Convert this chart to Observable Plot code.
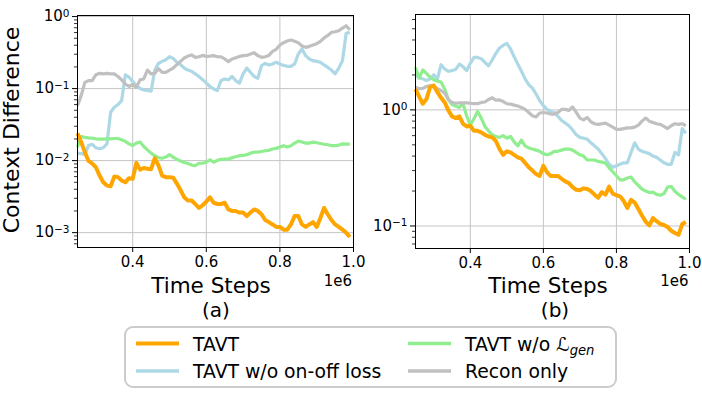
<!DOCTYPE html>
<html>
<head>
<meta charset="utf-8">
<script src="https://cdn.jsdelivr.net/npm/d3@7"></script>
<script src="https://cdn.jsdelivr.net/npm/@observablehq/plot@0.6"></script>
<style>
  html, body { margin: 0; padding: 0; background: white; }
  #wrap { position: relative; width: 702px; height: 395px; overflow: hidden; background: white; font-family: "DejaVu Sans", sans-serif; }
  .panel { position: absolute; top: 0; }
  #overlay { position: absolute; left: 0; top: 0; pointer-events: none; }
</style>
</head>
<body>
<div id="wrap">
  <div id="pa" class="panel" style="left:0px"></div>
  <div id="pb" class="panel" style="left:340px"></div>
  <svg id="overlay" width="702" height="395" font-family="DejaVu Sans, sans-serif"></svg>
</div>
<script>
// ---------- data (time steps in units of 1e6) ----------
const steps = [0.25,0.26,0.27,0.28,0.29,0.30,0.31,0.32,0.33,0.34,
  0.35,0.36,0.37,0.38,0.39,0.40,0.41,0.42,0.43,0.44,
  0.45,0.46,0.47,0.48,0.49,0.50,0.51,0.52,0.53,0.54,
  0.55,0.56,0.57,0.58,0.59,0.60,0.61,0.62,0.63,0.64,
  0.65,0.66,0.67,0.68,0.69,0.70,0.71,0.72,0.73,0.74,
  0.75,0.76,0.77,0.78,0.79,0.80,0.81,0.82,0.83,0.84,
  0.85,0.86,0.87,0.88,0.89,0.90,0.91,0.92,0.93,0.94,
  0.95,0.96,0.97,0.98,0.99];

const seriesNames = ["TAVT", "TAVT w/o on-off loss", "TAVT w/o L_gen", "Recon only"];

// panel (a)
const aTAVT = [0.0240,0.0181,0.0131,0.0099,0.0091,0.0081,0.0062,0.0050,0.0045,0.0044,
  0.0060,0.0059,0.0053,0.0050,0.0057,0.0056,0.0093,0.0075,0.0079,0.0077,
  0.0076,0.0108,0.0086,0.0062,0.0059,0.0059,0.0058,0.0048,0.0039,0.0031,
  0.0028,0.0028,0.0025,0.0022,0.0024,0.0027,0.0031,0.0026,0.0025,0.0025,
  0.0026,0.0021,0.0020,0.0020,0.0019,0.0019,0.0017,0.0019,0.0021,0.0020,
  0.0018,0.0015,0.0014,0.0013,0.0012,0.0012,0.0011,0.0011,0.0013,0.0017,
  0.0017,0.0013,0.0012,0.0013,0.0014,0.0012,0.0016,0.0022,0.0018,0.0015,
  0.0013,0.0012,0.0011,0.0010,0.00087];
const aNoOnOff = [0.0127,0.0125,0.0122,0.0162,0.0168,0.0151,0.0146,0.0151,0.0171,0.0470,
  0.0551,0.0600,0.0682,0.155,0.144,0.126,0.110,0.100,0.096,0.094,
  0.092,0.181,0.224,0.239,0.252,0.277,0.263,0.232,0.215,0.193,
  0.181,0.174,0.160,0.147,0.133,0.120,0.107,0.099,0.094,0.129,
  0.136,0.132,0.147,0.129,0.119,0.160,0.193,0.168,0.147,0.139,
  0.208,0.224,0.213,0.220,0.232,0.220,0.210,0.204,0.204,0.220,
  0.302,0.354,0.287,0.258,0.244,0.239,0.232,0.213,0.197,0.181,
  0.160,0.193,0.244,0.584,0.603];
const aNoGen = [0.0154,0.0216,0.0210,0.0207,0.0205,0.0201,0.0199,0.0199,0.0201,0.0201,
  0.0203,0.0203,0.0195,0.0185,0.0171,0.0162,0.0175,0.0181,0.0157,0.0141,
  0.0127,0.0117,0.0110,0.0108,0.0112,0.0121,0.0112,0.0104,0.0099,0.0094,
  0.0091,0.0087,0.0085,0.0092,0.0092,0.0095,0.0103,0.0095,0.0101,0.0104,
  0.0105,0.0105,0.0110,0.0113,0.0117,0.0118,0.0121,0.0127,0.0131,0.0131,
  0.0134,0.0137,0.0139,0.0145,0.0148,0.0154,0.0161,0.0154,0.0161,0.0175,
  0.0187,0.0181,0.0175,0.0175,0.0181,0.0177,0.0173,0.0169,0.0166,0.0162,
  0.0162,0.0164,0.0171,0.0169,0.0169];
const aRecon = [0.058,0.080,0.122,0.129,0.129,0.156,0.163,0.160,0.163,0.160,
  0.160,0.147,0.132,0.116,0.107,0.114,0.104,0.132,0.136,0.181,
  0.160,0.163,0.189,0.168,0.168,0.180,0.193,0.215,0.239,0.266,
  0.283,0.293,0.272,0.277,0.289,0.280,0.283,0.287,0.277,0.275,
  0.258,0.237,0.258,0.269,0.280,0.287,0.289,0.302,0.315,0.287,
  0.272,0.277,0.289,0.329,0.351,0.403,0.434,0.457,0.472,0.453,
  0.434,0.390,0.374,0.386,0.403,0.420,0.453,0.503,0.548,0.603,
  0.616,0.636,0.693,0.746,0.657];

// panel (b)
const bTAVT = [1.51,1.30,1.13,1.24,1.57,1.62,1.42,1.27,1.16,0.99,
  0.88,0.85,0.88,0.76,0.72,0.73,0.66,0.66,0.64,0.61,
  0.59,0.58,0.54,0.46,0.41,0.44,0.43,0.41,0.39,0.38,
  0.35,0.32,0.30,0.28,0.27,0.33,0.29,0.27,0.27,0.27,
  0.255,0.242,0.234,0.216,0.205,0.203,0.211,0.208,0.200,0.186,
  0.175,0.196,0.186,0.218,0.190,0.184,0.180,0.164,0.143,0.168,
  0.159,0.140,0.123,0.109,0.101,0.117,0.110,0.104,0.102,0.098,
  0.091,0.087,0.084,0.104,0.108];
const bNoOnOff = [1.97,1.91,1.85,1.79,1.85,2.01,1.85,2.45,2.25,2.15,
  2.18,2.23,2.48,2.36,2.18,2.52,2.83,2.83,2.76,2.57,
  2.40,2.69,3.07,3.41,3.59,3.74,3.36,2.87,2.48,2.15,
  1.85,1.65,1.54,1.37,1.20,1.09,1.01,0.97,0.95,0.88,
  0.81,0.77,0.73,0.67,0.61,0.58,0.57,0.56,0.52,0.49,
  0.46,0.42,0.38,0.34,0.32,0.33,0.34,0.35,0.35,0.43,
  0.52,0.46,0.44,0.43,0.42,0.40,0.39,0.37,0.35,0.34,
  0.34,0.43,0.41,0.69,0.63];
const bNoGen = [2.32,1.87,2.21,2.06,1.91,1.82,1.77,1.74,1.51,1.22,
  1.11,1.08,1.05,1.13,0.89,0.74,0.84,0.97,0.85,0.72,
  0.66,0.61,0.59,0.58,0.60,0.57,0.59,0.53,0.49,0.55,
  0.49,0.47,0.46,0.45,0.44,0.42,0.41,0.42,0.44,0.44,
  0.45,0.46,0.46,0.45,0.43,0.41,0.40,0.37,0.37,0.37,
  0.36,0.355,0.348,0.317,0.293,0.271,0.250,0.250,0.259,0.264,
  0.240,0.224,0.208,0.200,0.194,0.196,0.187,0.184,0.190,0.216,
  0.219,0.199,0.187,0.178,0.170];
const bRecon = [1.57,1.52,1.53,1.59,1.62,1.59,1.52,1.47,1.39,1.23,
  1.16,1.14,1.15,1.15,1.15,1.14,1.13,1.13,1.16,1.17,
  1.23,1.27,1.21,1.22,1.18,1.13,1.12,1.10,1.08,1.05,
  1.01,0.95,0.89,0.87,0.94,0.95,0.94,0.92,0.92,0.95,
  1.01,1.01,0.99,1.06,0.95,0.85,0.82,0.86,0.79,0.76,
  0.75,0.76,0.77,0.74,0.71,0.68,0.68,0.69,0.70,0.70,
  0.71,0.74,0.80,0.85,0.80,0.78,0.76,0.75,0.72,0.69,
  0.73,0.76,0.75,0.76,0.73];

// ticks
const xTicks = [0.4, 0.6, 0.8, 1.0];
const xGrid = [0.4, 0.6, 0.8];
const aMajor = [1e-3, 1e-2, 1e-1, 1];
const aMinor = [7e-4,8e-4,9e-4, 2e-3,3e-3,4e-3,5e-3,6e-3,7e-3,8e-3,9e-3,
  2e-2,3e-2,4e-2,5e-2,6e-2,7e-2,8e-2,9e-2, 0.2,0.3,0.4,0.5,0.6,0.7,0.8,0.9];
const bMajor = [1e-1, 1];
const bMinor = [7e-2,8e-2,9e-2, 0.2,0.3,0.4,0.5,0.6,0.7,0.8,0.9, 2,3,4,5,6];

const colors = {"TAVT": "#FFA500", "TAVT w/o on-off loss": "#ADD8E6", "TAVT w/o L_gen": "#90EE90", "Recon only": "#C0C0C0"};
const widths = {"TAVT": 4, "TAVT w/o on-off loss": 3.2, "TAVT w/o L_gen": 3.2, "Recon only": 3.2};

function rows(arr) { return steps.map((s, i) => ({x: s * 1e6, y: arr[i]})); }

function panel(series, yDomain, major, minor, margins) {
  const drawOrder = ["TAVT w/o on-off loss", "TAVT w/o L_gen", "Recon only", "TAVT"];
  const lines = drawOrder.map(name => Plot.line(rows(series[name]), {
    x: "x", y: "y", stroke: colors[name], strokeWidth: widths[name],
    strokeLinejoin: "round", strokeLinecap: "butt"
  }));
  const svg = Plot.plot({
    width: 360, height: 300,
    marginLeft: margins[0], marginRight: margins[1], marginTop: margins[2], marginBottom: margins[3],
    style: {background: "transparent", overflow: "visible", fontFamily: "DejaVu Sans, sans-serif", color: "black"},
    x: {domain: [0.25e6, 1.0e6]},
    y: {type: "log", domain: yDomain},
    marks: [
      Plot.gridX(xGrid.map(d => d * 1e6), {stroke: "#c4c4c4", strokeOpacity: 1, strokeWidth: 1}),
      Plot.gridY(major, {stroke: "#c4c4c4", strokeOpacity: 1, strokeWidth: 1}),
      ...lines,
      Plot.axisX(xTicks.map(d => d * 1e6), {tickFormat: d => (d / 1e6).toFixed(1), tickSize: 5, tickPadding: 4, fontSize: 15, label: null, stroke: "black", strokeWidth: 1}),
      Plot.axisY(minor, {tickSize: 3, tickFormat: () => "", label: null, stroke: "black", strokeWidth: 0.8}),
      Plot.axisY(major, {tickSize: 5, tickPadding: 3, fontSize: 15, tickFormat: d => "10^" + Math.round(Math.log10(d)), label: null, stroke: "black", strokeWidth: 1}),
      Plot.frame({stroke: "black", strokeWidth: 1})
    ]
  });
  d3.select(svg).selectAll("text").each(function() {
    const m = /^10\^(-?\d+)$/.exec(this.textContent);
    if (!m) return;
    const t = d3.select(this);
    t.text(null);
    t.append("tspan").text("10");
    t.append("tspan").attr("dy", "-0.45em").attr("font-size", "70%").text(m[1].replace("-", "\u2212"));
  });
  return svg;
}

document.getElementById("pa").appendChild(panel(
  {"TAVT": aTAVT, "TAVT w/o on-off loss": aNoOnOff, "TAVT w/o L_gen": aNoGen, "Recon only": aRecon},
  [6.22e-4, 1.035], aMajor, aMinor, [77, 7, 15, 53]));
document.getElementById("pb").appendChild(panel(
  {"TAVT": bTAVT, "TAVT w/o on-off loss": bNoOnOff, "TAVT w/o L_gen": bNoGen, "Recon only": bRecon},
  [0.064, 6.63], bMajor, bMinor, [75, 11, 14, 52]));

// ---------- labels and legend ----------
const ov = d3.select("#overlay");
ov.append("text").attr("transform", "translate(11.5,130) rotate(-90)").attr("text-anchor", "middle")
  .attr("dominant-baseline", "central").attr("font-size", 22).text("Context Difference");
[[211, "(a)", 216, 352], [548, "(b)", 555, 688.5]].forEach(([cx, tag, tx, rx]) => {
  ov.append("text").attr("x", cx).attr("y", 292.5).attr("text-anchor", "middle").attr("font-size", 21.5).text("Time Steps");
  ov.append("text").attr("x", tx).attr("y", 316.5).attr("text-anchor", "middle").attr("font-size", 20).text(tag);
  ov.append("text").attr("x", rx).attr("y", 286).attr("text-anchor", "end").attr("font-size", 15).text("1e6");
});

ov.append("rect").attr("x", 125).attr("y", 327).attr("width", 491).attr("height", 60).attr("rx", 8)
  .attr("fill", "white").attr("stroke", "#cccccc").attr("stroke-width", 2);
const legendPos = [[136, 343.5, 193, 351], [136, 371, 193, 378], [408, 343.5, 465, 351], [408, 371, 465, 378]];
seriesNames.forEach((name, i) => {
  const [lx, ly, tx, ty] = legendPos[i];
  ov.append("line").attr("x1", lx).attr("x2", lx + 43).attr("y1", ly).attr("y2", ly)
    .attr("stroke", colors[name]).attr("stroke-width", name === "TAVT" ? 4.2 : 3.6);
  const t = ov.append("text").attr("x", tx).attr("y", ty).attr("font-size", 18.8);
  if (name === "TAVT w/o L_gen") {
    t.append("tspan").text("TAVT w/o ");
    t.append("tspan").attr("font-style", "italic").text("\u2112");
    t.append("tspan").attr("font-style", "italic").attr("font-size", "70%").attr("dy", 4).text("gen");
  } else {
    t.text(name);
  }
});
</script>
</body>
</html>
